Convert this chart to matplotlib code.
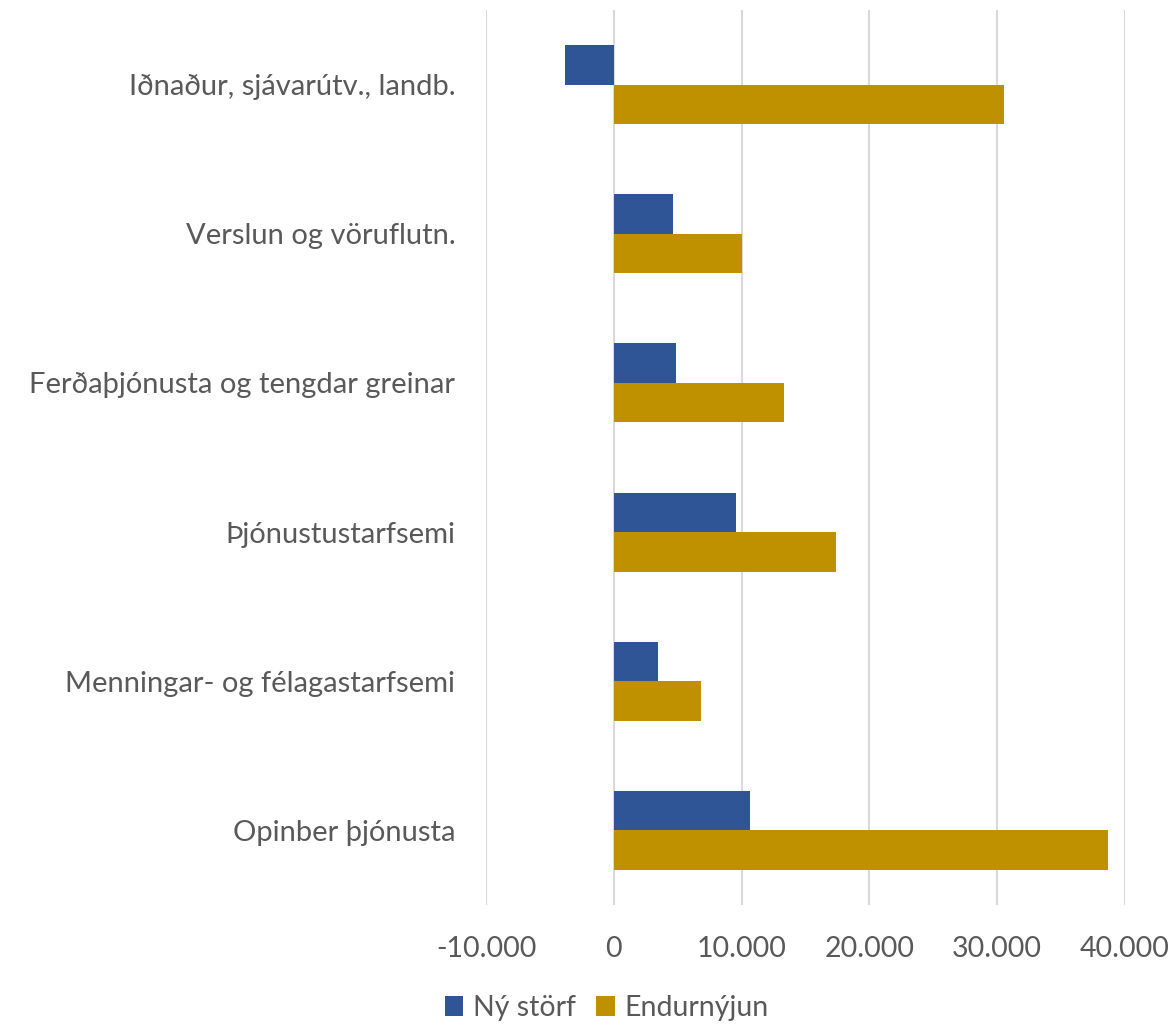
import numpy as np
import matplotlib.pyplot as plt

plt.rcParams['font.family'] = ['Lato', 'DejaVu Sans']

# data
categories = ["Iðnaður, sjávarútv., landb.", "Verslun og vöruflutn.",
              "Ferðaþjónusta og tengdar greinar", "Þjónustustarfsemi",
              "Menningar- og félagastarfsemi", "Opinber þjónusta"]
ny_storf = [-3800, 4600, 4900, 9600, 3450, 10650]
endurnyjun = [30500, 10000, 13350, 17400, 6850, 38650]
series_names = ["Ný störf", "Endurnýjun"]
xticks = [-10000, 0, 10000, 20000, 30000, 40000]

blue = "#2F5597"
gold = "#BF9000"
txt = "#595959"

fig = plt.figure(figsize=(11.76, 10.28), dpi=100)
ax = fig.add_axes([486/1176, 1-905/1028, (1125-486)/1176, 895/1028])

y = np.arange(len(categories))
h = 0.265
ax.barh(y - h/2, ny_storf, height=h, color=blue, label=series_names[0], zorder=3)
ax.barh(y + h/2, endurnyjun, height=h, color=gold, label=series_names[1], zorder=3)

ax.set_ylim(len(categories) - 0.5, -0.5)
ax.set_xlim(-10000, 40000)
ax.set_xticks(xticks)
ax.set_xticklabels([f"{v:,}".replace(",", ".") for v in xticks])
ax.set_yticks(y)
ax.set_yticklabels(categories)
ax.grid(axis='x', color='#D9D9D9', linewidth=1.5, zorder=0)
for s in ax.spines.values():
    s.set_visible(False)
ax.tick_params(axis='both', length=0, colors=txt)
ax.tick_params(axis='x', labelsize=20.5, pad=22)
ax.tick_params(axis='y', labelsize=21, pad=22)

fig.legend(loc='center', bbox_to_anchor=(0.516, 1 - 1008/1028),
           ncol=2, frameon=False, fontsize=20.5, labelcolor=txt,
           handlelength=0.65, handleheight=0.65, handletextpad=0.35, columnspacing=0.7)

fig.savefig("out.png", dpi=100)
